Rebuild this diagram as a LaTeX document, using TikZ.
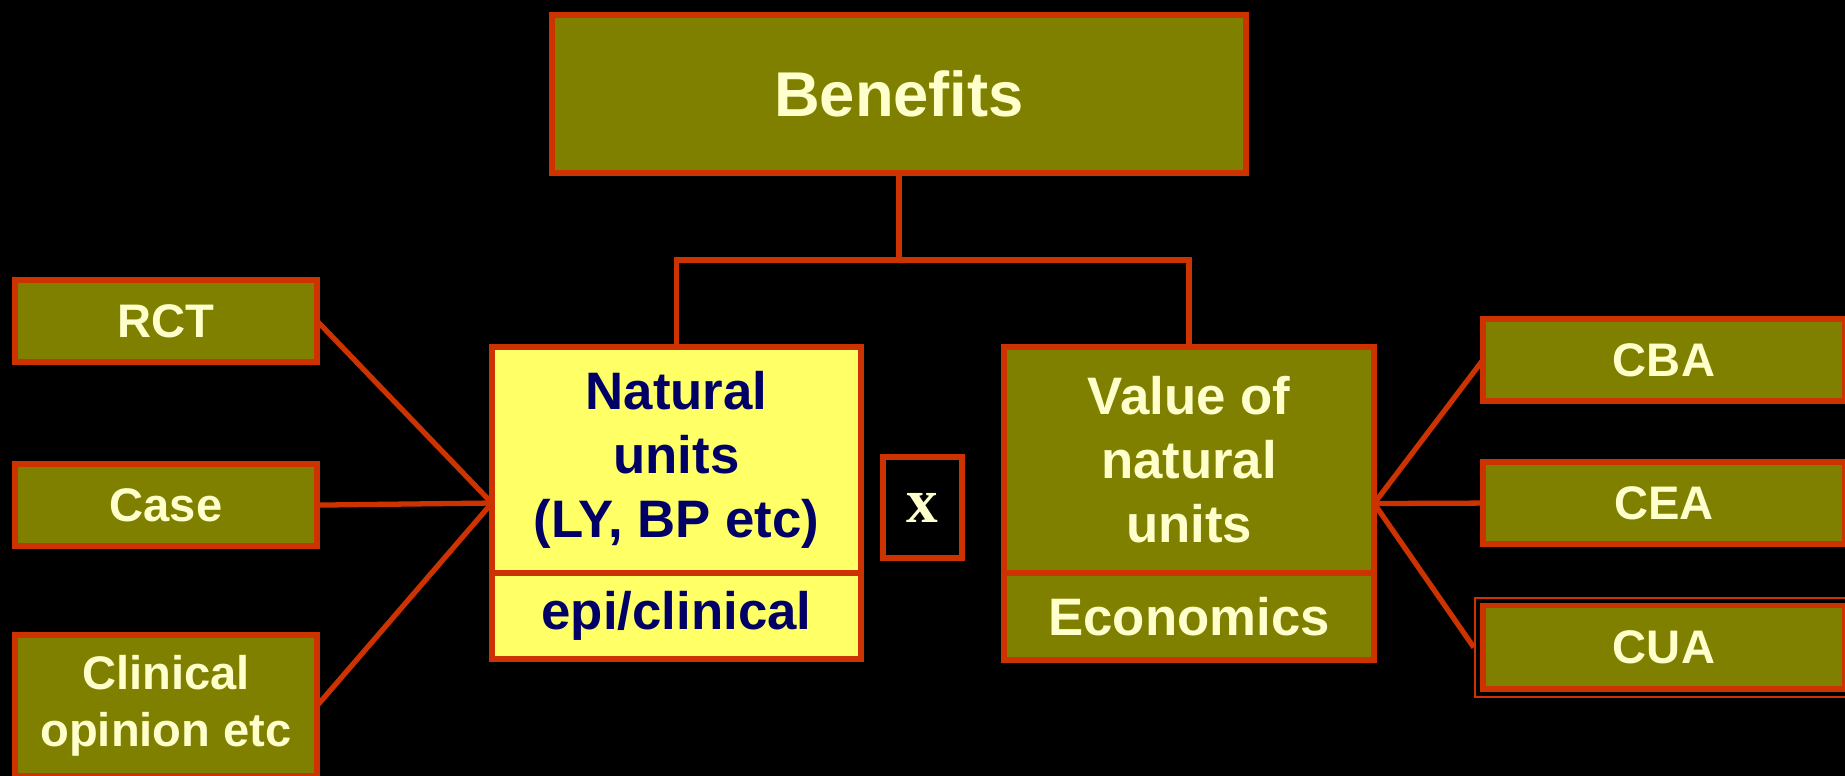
\documentclass[tikz,border=0pt]{standalone}
\usepackage{fontspec}
\setmainfont{Liberation Sans}
\newfontfamily\timesfont{Liberation Serif}
\usetikzlibrary{calc, positioning, fit}
\definecolor{olivebox}{HTML}{808000}
\definecolor{rustline}{HTML}{CC3300}
\definecolor{creamtext}{HTML}{FFFFCC}
\definecolor{paleyellow}{HTML}{FFFF66}
\definecolor{navytext}{HTML}{000066}
\tikzset{
    olive_node/.style={rectangle, fill=olivebox, draw=rustline, line width=1.6pt, text=creamtext, font=\bfseries, text centered, align=center, outer sep=0pt, inner sep=0pt},
    yellow_node/.style={olive_node, fill=paleyellow, text=navytext},
    small_node/.style={olive_node, minimum width=3.02cm, minimum height=0.82cm, font=\fontsize{13.4}{16.2}\selectfont\bfseries},
    big_text/.style={font=\fontsize{15}{18.2}\selectfont\bfseries},
    times_node/.style={rectangle, draw=rustline, line width=1.6pt, text=creamtext, minimum width=0.79cm, minimum height=1.01cm, outer sep=0pt, font=\fontsize{18}{20}\timesfont\bfseries},
    line/.style={draw=rustline, line width=1.5pt},
    frame/.style={draw=rustline, line width=0.6pt, inner sep=0.08cm},
}

\begin{document}
\begin{tikzpicture}[x=0.01cm, y=-0.01cm]
      \useasboundingbox (0,0) rectangle (1845,776);
      \fill [black] (0,0) rectangle (1845,776);

      %%%%%%%%%%%%
      % Benefits %
      %%%%%%%%%%%%
      \node (benefits) [olive_node, minimum width=6.94cm, minimum height=1.58cm,
          font=\fontsize{18}{21}\selectfont\bfseries] at (899,94)
          {Benefits};
      \node (natural) [yellow_node, big_text, minimum width=3.69cm, minimum height=2.26cm] at (676.5,460)
          {Natural\\units\\(LY, BP etc)};
      \node (natural_sub) [yellow_node, big_text, minimum width=3.69cm, minimum height=0.86cm, below=0pt of natural]
          {epi/clinical};
      \node (times) [times_node] at (922.5,507.5)
          {x};
      \node (value) [olive_node, big_text, minimum width=3.70cm, minimum height=2.26cm] at (1189,460)
          {Value of\\natural\\units};
      \node (value_sub) [olive_node, big_text, minimum width=3.70cm, minimum height=0.87cm, below=0pt of value]
          {Economics};

      %%%%%%%%%%%
      % Sources %
      %%%%%%%%%%%
      \node (rct) [small_node] at (166,321)
          {RCT};
      \node (case) [small_node, below=1.02cm of rct]
          {Case};
      \node (clinical) [small_node, minimum height=1.41cm, below=0.89cm of case]
          {Clinical\\opinion etc};

      %%%%%%%%%%%%
      % Analyses %
      %%%%%%%%%%%%
      \node (cba) [small_node, minimum width=3.62cm] at (1664,360)
          {CBA};
      \node (cea) [small_node, minimum width=3.62cm, below=0.61cm of cba]
          {CEA};
      \node (cua) [small_node, minimum width=3.62cm, minimum height=0.835cm, below=0.615cm of cea]
          {CUA};
      \node (cua_frame) [frame, fit=(cua)] {};

      \coordinate (branch) at ($(benefits.south)+(0,87)$);
      \coordinate (natural_in) at ($(natural.north west)!0.5!(natural_sub.south west)$);
      \coordinate (value_out) at ($(value.north east)!0.5!(value_sub.south east)$);

      \draw [line] (benefits.south) -- (branch);
      \draw [line] (natural.north) |- (branch) -| (value.north);
      \draw [line] (rct.east) -- (natural_in);
      \draw [line] (case.east) -- (natural_in);
      \draw [line] (clinical.east) -- (natural_in);
      \draw [line] (value_out) -- (cba.west);
      \draw [line] (value_out) -- (cea.west);
      \draw [line] (value_out) -- (cua_frame.west);

\end{tikzpicture}
\end{document}
